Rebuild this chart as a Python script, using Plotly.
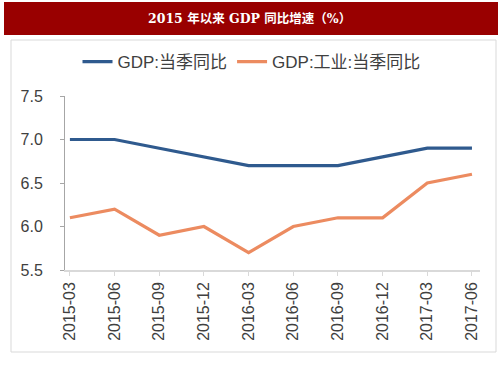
import plotly.graph_objects as go

categories = ["2015-03", "2015-06", "2015-09", "2015-12", "2016-03",
              "2016-06", "2016-09", "2016-12", "2017-03", "2017-06"]
gdp = [7.0, 7.0, 6.9, 6.8, 6.7, 6.7, 6.7, 6.8, 6.9, 6.9]
gdp_industry = [6.1, 6.2, 5.9, 6.0, 5.7, 6.0, 6.1, 6.1, 6.5, 6.6]
y_ticks = [5.5, 6.0, 6.5, 7.0, 7.5]

W, H = 503, 378
L, R, T, B = 65, 23, 96, 108

fig = go.Figure()
fig.add_trace(go.Scatter(x=list(range(len(categories))), y=gdp, mode="lines",
                         name="GDP:当季同比", line=dict(color="#2F5A8E", width=3.2)))
fig.add_trace(go.Scatter(x=list(range(len(categories))), y=gdp_industry, mode="lines",
                         name="GDP:工业:当季同比", line=dict(color="#EC8B60", width=3.2)))

def xp(xx):
    return (xx - L) / (W - L - R)
def yp(yy):
    return (H - B - yy) / (H - T - B)

shapes = [
    dict(type="rect", xref="paper", yref="paper", x0=xp(11), x1=xp(496), y0=yp(352), y1=yp(40),
         line=dict(color="#D9D9D9", width=1), fillcolor="rgba(0,0,0,0)", layer="below"),
    dict(type="rect", xref="paper", yref="paper", x0=xp(4), x1=xp(498), y0=yp(35), y1=yp(2),
         line=dict(width=0), fillcolor="#990000", layer="below"),
]

fig.update_layout(
    width=W, height=H,
    margin=dict(l=L, r=R, t=T, b=B, autoexpand=False),
    paper_bgcolor="white", plot_bgcolor="white",
    font=dict(family="Liberation Sans, Arial, Noto Sans CJK SC", color="#404040", size=14),
    showlegend=True,
    legend=dict(orientation="h", x=0.5, xref="container", xanchor="center",
                y=1 - 62 / H, yref="container", yanchor="middle",
                font=dict(size=17, color="#404040"), itemwidth=30, tracegroupgap=0,
                bgcolor="rgba(0,0,0,0)"),
    shapes=shapes,
    annotations=[dict(text="<b>2015 年以来 GDP 同比增速（%）</b>", xref="paper", yref="paper",
                      x=xp(249), y=yp(18.5), xanchor="center", yanchor="middle", showarrow=False,
                      font=dict(family="DejaVu Serif, Noto Sans CJK SC", size=12.5, color="white"))],
    xaxis=dict(
        range=[-0.11, 9.18], automargin=False,
        tickmode="array", tickvals=list(range(len(categories))), ticktext=categories,
        tickangle=-90, tickfont=dict(size=16, color="#404040"),
        showgrid=False, zeroline=False,
        showline=True, linecolor="#D9D9D9", linewidth=1.5,
        ticks="outside", ticklen=4, tickcolor="#D9D9D9",
    ),
    yaxis=dict(
        range=[5.5, 7.5], tickvals=y_ticks, tickformat=".1f", automargin=False,
        tickfont=dict(size=16, color="#404040"),
        showgrid=False, zeroline=False,
        showline=True, linecolor="#A6A6A6", linewidth=1,
        ticks="outside", ticklen=4, tickcolor="#A6A6A6", ticklabelstandoff=14,
    ),
)

fig.write_html("out.html", config={"displayModeBar": False},
               post_script="document.body.style.margin='0';document.body.style.overflow='hidden';")
